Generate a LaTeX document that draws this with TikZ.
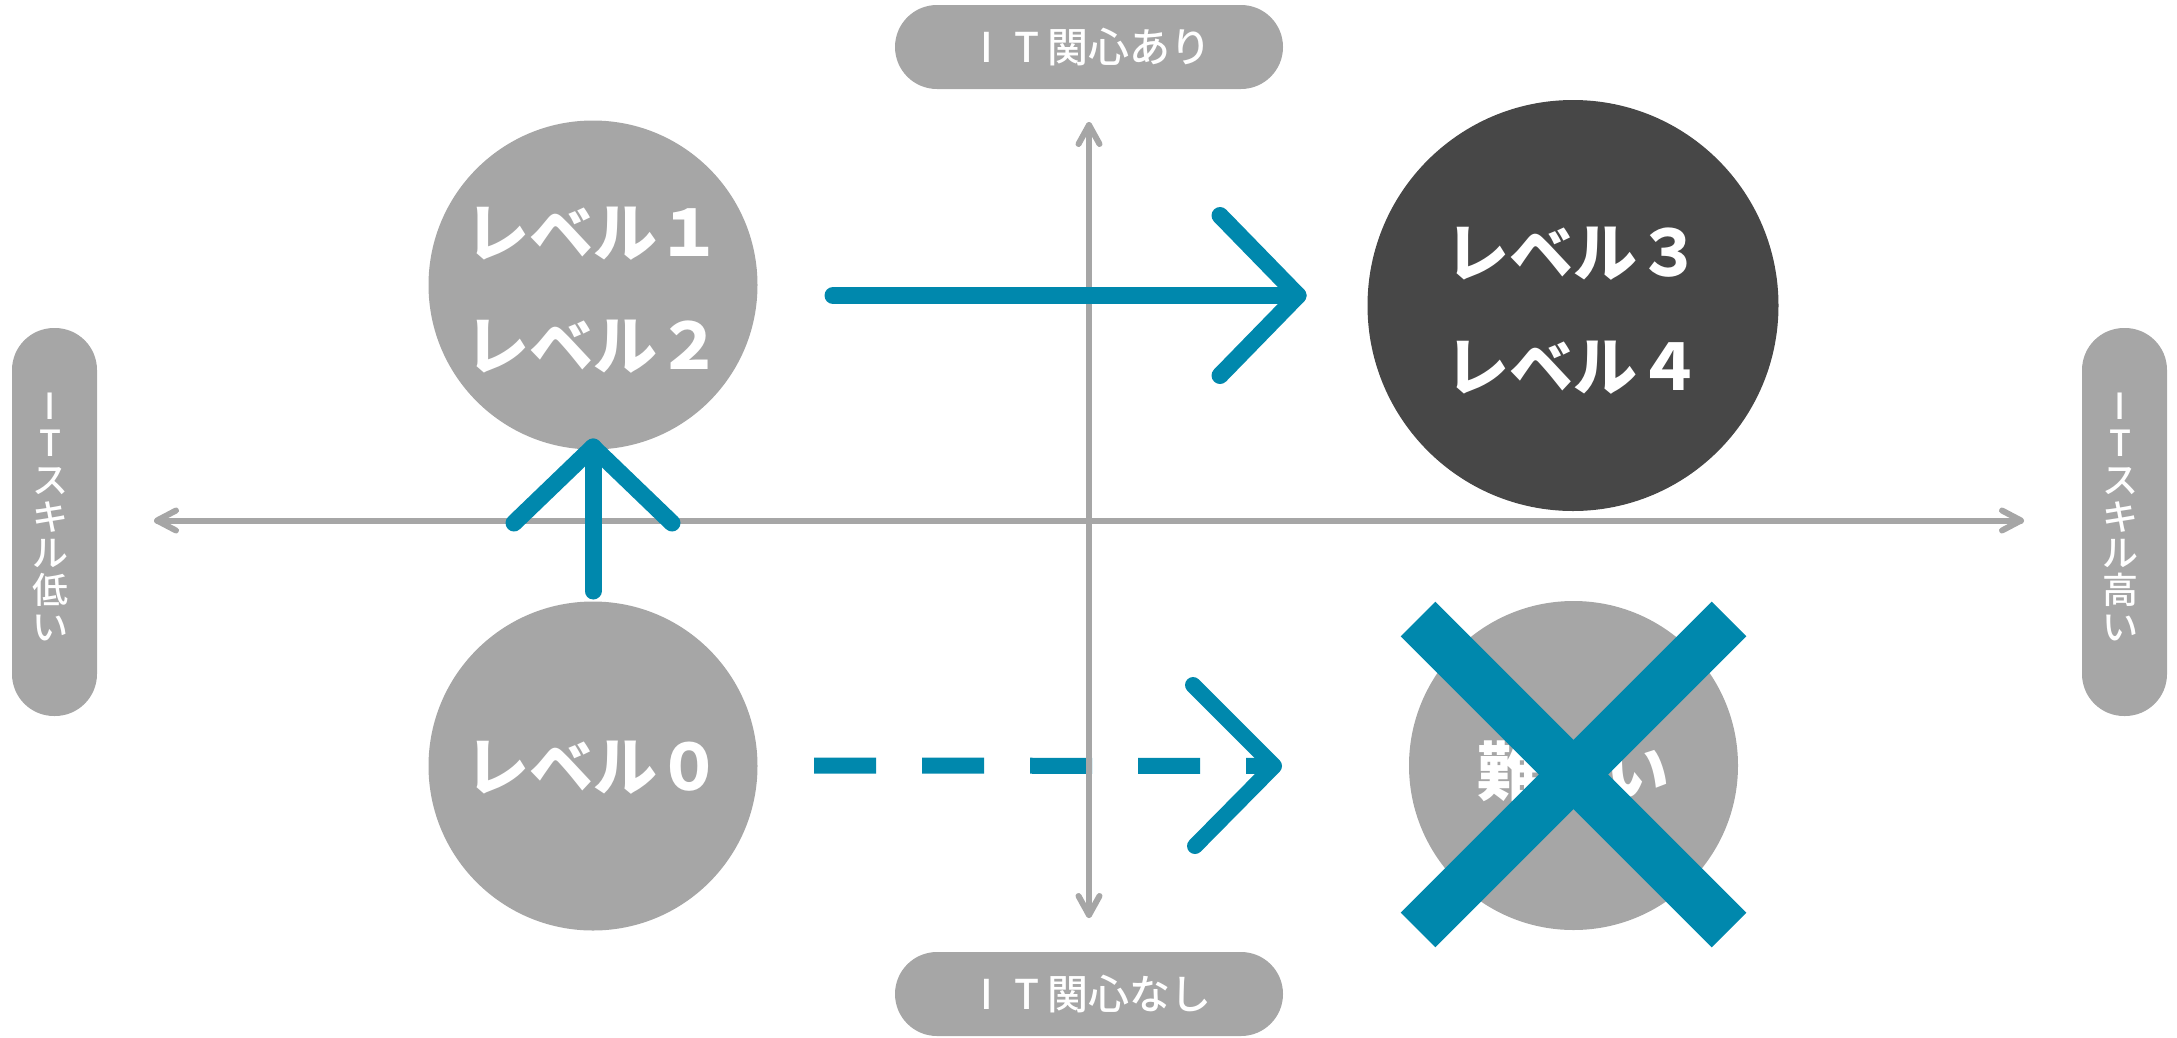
\documentclass[tikz,border=0pt]{standalone}
\usepackage{fontspec}
\setmainfont{Noto Sans CJK JP}
\newfontfamily\jpmed{Noto Sans CJK JP Medium}
\definecolor{pg}{HTML}{A6A6A6}
\definecolor{dk}{HTML}{474747}
\definecolor{bl}{HTML}{0088AD}
\newcommand{\fw}[1]{\makebox[1em]{#1}}
\begin{document}
\begin{tikzpicture}[x=1pt,y=-1pt,
  circ/.style={circle, fill=pg, inner sep=0pt, minimum size=#1},
  lvl/.style={text=white, font=\fontsize{64}{64}\selectfont\bfseries, inner sep=0pt},
  hpill/.style={fill=pg, rounded corners=42pt, inner sep=0pt, minimum width=388pt, minimum height=84pt, text=white, font=\fontsize{41}{41}\selectfont\jpmed},
  vpill/.style={fill=pg, rounded corners=42pt, inner sep=0pt, minimum width=85pt, minimum height=388pt},
  vtext/.style={text=white, align=center, font=\fontsize{36}{36.7}\selectfont\jpmed, inner sep=0pt},
  axisline/.style={draw=pg, line width=6pt, line cap=round, line join=round},
  barrow/.style={draw=bl, line width=17pt, line cap=round, line join=round},
  dashline/.style={draw=bl, line width=16pt, line cap=butt, dash pattern=on 62pt off 46pt},
  chev/.style={draw=bl, line width=16pt, line cap=round, line join=round},
  xline/.style={draw=bl, line width=49pt, line cap=butt}
]
\useasboundingbox (0,0) rectangle (2177,1037);

% circles
\node[circ=329pt] (c12) at (593,285) {};
\node[circ=411pt, fill=dk] (c34) at (1573,305.5) {};
\node[circ=329pt] (c0) at (593,766) {};
\node[circ=329pt] (cx) at (1573.5,765.5) {};

% texts in circles
\node[lvl] (t1) at (593,234) {レベル１};
\node[lvl] (t2) at (593,347) {レベル２};
\node[lvl] (t3) at (1573,254) {レベル３};
\node[lvl] (t4) at (1573,368) {レベル４};
\node[lvl] (t0) at (593,768) {レベル０};
\node[lvl] (tx) at (1573,771) {難しい};

% pills
\node[hpill] (ptop) at (1089,47) {\fw{I}\fw{T}関心あり};
\node[hpill] (pbot) at (1089,994) {\fw{I}\fw{T}関心なし};
\node[vpill] (pleft) at (54.5,522) {};
\node[vpill] (pright) at (2124.5,522) {};
\node[vtext] (tleft) at (50,517) {I\\T\\ス\\キ\\ル\\低\\い};
\node[vtext] (tright) at (2120,517) {I\\T\\ス\\キ\\ル\\高\\い};

% axes
\coordinate (hl) at (157,520.5);
\coordinate (hr) at (2021,520.5);
\coordinate (vt) at (1089,125);
\coordinate (vb) at (1089,915);
\draw[axisline] (hl) -- (hr);
\draw[axisline] (vt) -- (vb);
\draw[axisline] ([shift={(19,-10)}]hl) -- (hl) -- ([shift={(19,10)}]hl);
\draw[axisline] ([shift={(-19,-10)}]hr) -- (hr) -- ([shift={(-19,10)}]hr);
\draw[axisline] ([shift={(-10.5,19)}]vt) -- (vt) -- ([shift={(10.5,19)}]vt);
\draw[axisline] ([shift={(-10.5,-19)}]vb) -- (vb) -- ([shift={(10.5,-19)}]vb);

% arrows
\coordinate (a1s) at (833,295.5);
\coordinate (a1e) at (1298,295.5);
\draw[barrow] (a1s) -- (a1e);
\draw[barrow] ([shift={(-78,-80)}]a1e) -- (a1e) -- ([shift={(-78,80)}]a1e);

\coordinate (a2s) at (593,591);
\coordinate (a2e) at (593,447);
\draw[barrow] (a2s) -- (a2e);
\draw[barrow] ([shift={(-79,76)}]a2e) -- (a2e) -- ([shift={(79,76)}]a2e);

\coordinate (a3s) at (814,765.5);
\coordinate (a3e) at (1274,766);
\draw[dashline] (a3s) -- (a3e);
\draw[chev] ([shift={(-81,-81)}]a3e) -- (a3e) -- ([shift={(-79,80)}]a3e);

% vertical axis visible over the dashed line
\begin{scope}
  \clip (1060,740) rectangle (1120,790);
  \draw[axisline] (vt) -- (vb);
\end{scope}

% cross
\coordinate (xc) at (1573.5,774.5);
\draw[xline] ([shift={(-155.5,-155.5)}]xc) -- ([shift={(155.5,155.5)}]xc);
\draw[xline] ([shift={(155.5,-155.5)}]xc) -- ([shift={(-155.5,155.5)}]xc);
\end{tikzpicture}
\end{document}
